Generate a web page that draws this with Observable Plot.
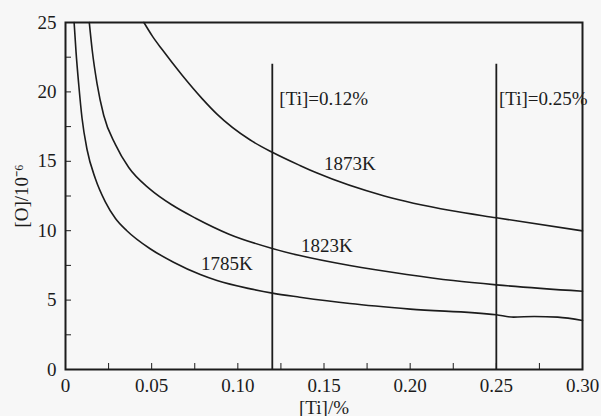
<!DOCTYPE html>
<html><head><meta charset="utf-8">
<script src="https://cdn.jsdelivr.net/npm/d3@7"></script>
<script src="https://cdn.jsdelivr.net/npm/@observablehq/plot@0.6"></script>
<style>
html,body{margin:0;padding:0;background:#f7f7f7;}
#chart svg text, #chart svg tspan { font-family: "Liberation Serif", "Times New Roman", serif !important; }
</style></head><body><div id="chart"></div>
<script>
// Curve data ([Ti] %, [O] ppm)
const x1785 = [0.0050, 0.0061, 0.0077, 0.0096, 0.0125, 0.0173, 0.0231, 0.029, 0.0356, 0.0491, 0.0627, 0.0782, 0.0879, 0.1073, 0.12, 0.136, 0.165, 0.20, 0.25, 0.26, 0.272, 0.2856, 0.30];
const y1785 = [25, 22.9, 20.5, 18.1, 15.85, 13.76, 12.08, 10.88, 10.0, 8.70, 7.73, 6.84, 6.41, 5.81, 5.50, 5.21, 4.75, 4.35, 3.94, 3.77, 3.82, 3.77, 3.53];
const x1823 = [0.0138, 0.0155, 0.0183, 0.0222, 0.029, 0.0367, 0.049, 0.0619, 0.0755, 0.0949, 0.12, 0.136, 0.165, 0.198, 0.225, 0.25, 0.30];
const y1823 = [25, 23.0, 20.6, 18.3, 16.2, 14.55, 13.0, 11.85, 10.9, 9.75, 8.72, 8.21, 7.49, 6.85, 6.41, 6.10, 5.64];
const x1873 = [0.0455, 0.0505, 0.0561, 0.0677, 0.0794, 0.0879, 0.107, 0.12, 0.136, 0.146, 0.185, 0.2235, 0.25, 0.30];
const y1873 = [25, 24.0, 23.05, 21.2, 19.5, 18.4, 16.55, 15.65, 14.7, 14.15, 12.5, 11.45, 10.93, 9.99];

const curveNames = ["1785K", "1823K", "1873K"];
const curveXs = [x1785, x1823, x1873];
const curveYs = [y1785, y1823, y1873];
// where each curve's label sits
const curveLabelX = [0.0786, 0.1367, 0.150];
const curveLabelY = [7.61, 8.93, 14.84];

const tiLines = [0.12, 0.25];
const tiLineTop = 22;
const tiLabels = ["[Ti]=0.12%", "[Ti]=0.25%"];
const tiLabelX = [0.1241, 0.2515];
const tiLabelY = [19.5, 19.5];

const xTicks = [0, 0.025, 0.05, 0.075, 0.10, 0.125, 0.15, 0.175, 0.20, 0.225, 0.25, 0.275, 0.30];
const xTickLabels = ["0", "", "0.05", "", "0.10", "", "0.15", "", "0.20", "", "0.25", "", "0.30"];
const yTicks = [0, 2.5, 5, 7.5, 10, 12.5, 15, 17.5, 20, 22.5, 25];
const yTickLabels = ["0", "", "5", "", "10", "", "15", "", "20", "", "25"];

const rows = curveNames.flatMap((name, k) => curveXs[k].map((x, i) => ({name, x, y: curveYs[k][i]})));
const curveLabels = curveNames.map((name, k) => ({name, x: curveLabelX[k], y: curveLabelY[k]}));
const tiLabelRows = tiLabels.map((t, k) => ({t, x: tiLabelX[k], y: tiLabelY[k]}));
const xMap = new Map(xTicks.map((t, i) => [t, xTickLabels[i]]));
const yMap = new Map(yTicks.map((t, i) => [t, yTickLabels[i]]));

const ink = "#1c1c1c";
const serif = "Liberation Serif, Times New Roman, serif";
const chart = Plot.plot({
  width: 601, height: 416,
  marginLeft: 65, marginRight: 19, marginTop: 22, marginBottom: 47,
  style: {fontFamily: serif, fontSize: "19px", background: "#f7f7f7", color: ink},
  x: {domain: [0, 0.30]},
  y: {domain: [0, 25]},
  marks: [
    Plot.frame({stroke: ink, strokeWidth: 2}),
    Plot.ruleX(tiLines, {y1: 0, y2: tiLineTop, stroke: ink, strokeWidth: 1.8}),
    Plot.line(rows, {x: "x", y: "y", z: "name", curve: "monotone-x", stroke: ink, strokeWidth: 1.6}),
    Plot.text(curveLabels, {x: "x", y: "y", text: "name", textAnchor: "start", fill: ink, fontSize: 19, fontFamily: serif}),
    Plot.text(tiLabelRows, {x: "x", y: "y", text: "t", textAnchor: "start", fill: ink, fontSize: 19, fontFamily: serif}),
    Plot.axisX({ticks: xTicks, tickFormat: d => xMap.get(d) ?? "", tickSize: -6, tickPadding: 15, fontSize: 19, fontFamily: serif,
      label: "[Ti]/%", labelAnchor: "center", labelOffset: 44, labelArrow: "none", stroke: ink, fill: ink}),
    Plot.axisY({ticks: yTicks, tickFormat: d => yMap.get(d) ?? "", tickSize: -6, tickPadding: 15, fontSize: 19, fontFamily: serif,
      label: "[O]/10⁻⁶", labelAnchor: "center", labelOffset: 51, labelArrow: "none", stroke: ink, fill: ink})
  ]
});
document.getElementById("chart").append(chart);
</script></body></html>
